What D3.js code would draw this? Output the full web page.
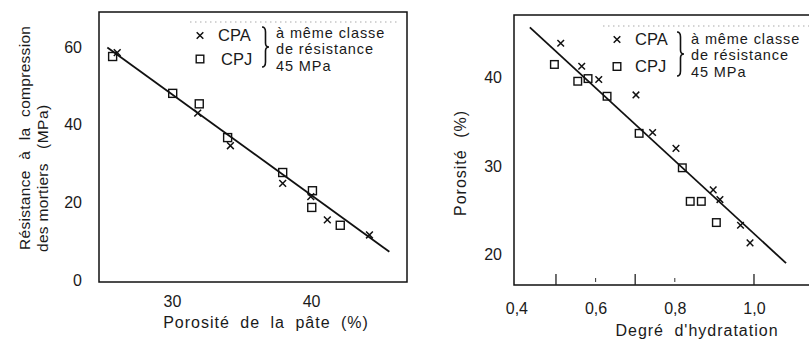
<!DOCTYPE html>
<html>
<head>
<meta charset="utf-8">
<script src="https://cdn.jsdelivr.net/npm/d3@7"></script>
<style>
  html, body { margin: 0; padding: 0; background: #fff; }
  svg { display: block; }
  text { font-family: "Liberation Sans", Arial, Helvetica, sans-serif; fill: #1a1a1a; }
</style>
</head>
<body>
<svg id="chart" width="809" height="340"></svg>
<script>
// ---------- DATA ----------
// Left panel: compressive strength of mortars (MPa) vs paste porosity (%)
const leftCPA = [[26.06,58.6],[31.85,43.0],[34.2,34.6],[37.96,24.9],[39.98,21.5],[41.17,15.5],[44.2,11.6]];
const leftCPJ = [[25.73,57.6],[30.05,48.1],[31.96,45.4],[34.0,36.7],[37.96,27.7],[40.1,23.0],[40.05,18.7],[42.1,14.1]];
const leftFit = [[25.35,59.9],[45.63,7.3]];
const leftXTicks = [30, 40];
const leftYTicks = [0, 20, 40, 60];

// Right panel: porosity (%) vs degree of hydration
const rightCPA = [[0.512,43.9],[0.565,41.3],[0.608,39.8],[0.702,38.05],[0.744,33.8],[0.803,32.0],[0.897,27.3],[0.914,26.2],[0.966,23.3],[0.99,21.3]];
const rightCPJ = [[0.496,41.5],[0.555,39.6],[0.581,39.9],[0.629,37.9],[0.71,33.7],[0.819,29.8],[0.839,26.0],[0.867,26.0],[0.905,23.6]];
const rightFit = [[0.434,45.7],[1.081,19.0]];
const rightXTicks = [0.4, 0.6, 0.8, 1.0];
const rightXMajorMarks = [0.5, 0.7, 1.0];
const rightXMinorMarks = [0.6, 0.8];
const rightYTicks = [20, 30, 40];

const legendLabels = ["CPA", "CPJ"];
const legendNote = ["à même classe", "de résistance", "45 MPa"];

// ---------- DRAW ----------
const svg = d3.select("#chart");
const frmt = d => d3.format(".1f")(d).replace(".", ",");

function cross(g, x, y, s) {
  g.append("path")
    .attr("d", `M${x-s},${y-s}L${x+s},${y+s}M${x-s},${y+s}L${x+s},${y-s}`)
    .attr("stroke", "#111").attr("stroke-width", 1.5).attr("fill", "none");
}
function square(g, x, y, s) {
  g.append("rect").attr("x", x-s).attr("y", y-s).attr("width", 2*s).attr("height", 2*s)
    .attr("fill", "none").attr("stroke", "#111").attr("stroke-width", 1.4);
}
function brace(g, x, y0, y1, w) {
  const m = (y0 + y1) / 2;
  g.append("path")
    .attr("d", `M${x},${y0} Q${x+w},${y0} ${x+w},${y0+5} L${x+w},${m-4} Q${x+w},${m} ${x+2*w},${m} Q${x+w},${m} ${x+w},${m+4} L${x+w},${y1-5} Q${x+w},${y1} ${x},${y1}`)
    .attr("fill", "none").attr("stroke", "#111").attr("stroke-width", 1.6);
}
function styleAxis(g, fs) {
  g.select(".domain").remove();
  g.selectAll(".tick line").remove();
  g.selectAll(".tick text").style("font-size", fs + "px").attr("fill", "#1a1a1a");
}
function legend(g, o) {
  // faint screened box edge from the original print
  g.append("line").attr("x1", o.bx0).attr("x2", o.bx1).attr("y1", o.by).attr("y2", o.by)
    .attr("stroke", "#aaa").attr("stroke-width", 1.2).attr("stroke-dasharray", "1.5,3.5");
  cross(g, o.mx, o.y1, 3.3);
  square(g, o.mx, o.y2, 3.8);
  g.append("text").attr("x", o.tx).attr("y", o.y1 + 5.5).style("font-size", "16.5px").text(legendLabels[0]);
  g.append("text").attr("x", o.tx2).attr("y", o.y2 + 5.5).style("font-size", "16.5px").text(legendLabels[1]);
  brace(g, o.bx, o.b0, o.b1, 3.5);
  legendNote.forEach((t, i) => {
    g.append("text").attr("x", o.nx).attr("y", o.nb[i]).style("font-size", "14.5px")
      .style("letter-spacing", "0.9px").text(t);
  });
}

// ----- Left panel -----
(function () {
  const g = svg.append("g");
  const x = d3.scaleLinear().domain([24.75, 46.9]).range([99, 407]);
  const y = d3.scaleLinear().domain([-0.52, 69.07]).range([282, 12]);
  const [x0, x1] = x.range(), [y0, y1] = y.range();

  g.append("rect").attr("x", x0).attr("y", y1).attr("width", x1 - x0).attr("height", y0 - y1)
    .attr("fill", "none").attr("stroke", "#111").attr("stroke-width", 1.5);

  const ax = g.append("g").attr("transform", `translate(0,${y0})`)
    .call(d3.axisBottom(x).tickValues(leftXTicks).tickSize(0).tickPadding(14).tickFormat(d3.format("d")));
  styleAxis(ax, 16);
  const ay = g.append("g").attr("transform", `translate(${x0},0)`)
    .call(d3.axisLeft(y).tickValues(leftYTicks).tickSize(0).tickPadding(17).tickFormat(d3.format("d")));
  styleAxis(ay, 16);

  g.append("path").datum(leftFit)
    .attr("d", d3.line().x(d => x(d[0])).y(d => y(d[1])))
    .attr("stroke", "#111").attr("stroke-width", 1.8).attr("fill", "none");
  leftCPJ.forEach(d => square(g, x(d[0]), y(d[1]), 4));
  leftCPA.forEach(d => cross(g, x(d[0]), y(d[1]), 3.4));

  legend(g, { bx0: 190, bx1: 398, by: 22, mx: 200, y1: 35.5, y2: 59, tx: 218, tx2: 221,
              bx: 262, b0: 27, b1: 67, nx: 276, nb: [38, 54.3, 70.6] });

  g.append("text").attr("transform", "translate(30,250) rotate(-90)")
    .style("font-size", "15.5px").style("word-spacing", "6px").style("letter-spacing", "0.3px")
    .text("Résistance à la compression");
  g.append("text").attr("transform", "translate(48,252) rotate(-90)")
    .style("font-size", "15.5px").style("letter-spacing", "0.3px").text("des mortiers");
  g.append("text").attr("transform", "translate(48,149) rotate(-90)")
    .style("font-size", "15.5px").style("letter-spacing", "0.5px").text("(MPa)");
  g.append("text").attr("x", 266).attr("y", 327.5).attr("text-anchor", "middle")
    .style("font-size", "16px").style("letter-spacing", "1px").style("word-spacing", "5px")
    .text("Porosité de la pâte (%)");
})();

// ----- Right panel -----
(function () {
  const g = svg.append("g");
  const x = d3.scaleLinear().domain([0.394, 1.1465]).range([514, 812]);
  const y = d3.scaleLinear().domain([16.53, 47.1]).range([285, 15]);
  const [x0, x1] = x.range(), [y0, y1] = y.range();

  g.append("path").attr("d", `M${x1},${y1}L${x0},${y1}L${x0},${y0}L${x1},${y0}`)
    .attr("fill", "none").attr("stroke", "#111").attr("stroke-width", 1.5);

  const ax = g.append("g").attr("transform", `translate(0,${y0})`)
    .call(d3.axisBottom(x).tickValues(rightXTicks).tickSize(0).tickPadding(17.5).tickFormat(frmt));
  styleAxis(ax, 16);
  g.selectAll(".majorMark").data(rightXMajorMarks).enter().append("line")
    .attr("x1", d => x(d)).attr("x2", d => x(d)).attr("y1", y0).attr("y2", y0 - 11)
    .attr("stroke", "#222").attr("stroke-width", 1.3);
  g.selectAll(".minorMark").data(rightXMinorMarks).enter().append("line")
    .attr("x1", d => x(d)).attr("x2", d => x(d)).attr("y1", y0 - 3).attr("y2", y0 - 7)
    .attr("stroke", "#444").attr("stroke-width", 1.1);

  const ay = g.append("g").attr("transform", `translate(${x0},0)`)
    .call(d3.axisLeft(y).tickValues(rightYTicks).tickSize(0).tickPadding(12).tickFormat(d3.format("d")));
  styleAxis(ay, 16);

  g.append("path").datum(rightFit)
    .attr("d", d3.line().x(d => x(d[0])).y(d => y(d[1])))
    .attr("stroke", "#111").attr("stroke-width", 1.8).attr("fill", "none");
  rightCPJ.forEach(d => square(g, x(d[0]), y(d[1]), 3.8));
  rightCPA.forEach(d => cross(g, x(d[0]), y(d[1]), 3.3));

  legend(g, { bx0: 603, bx1: 809, by: 26, mx: 617, y1: 39.5, y2: 66.5, tx: 635, tx2: 635,
              bx: 677, b0: 32, b1: 76, nx: 691, nb: [44, 60.3, 76.6] });

  g.append("text").attr("transform", "translate(466,216) rotate(-90)")
    .style("font-size", "16px").style("letter-spacing", "1px").style("word-spacing", "6px")
    .text("Porosité (%)");
  g.append("text").attr("x", 697).attr("y", 335.5).attr("text-anchor", "middle")
    .style("font-size", "16px").style("letter-spacing", "1px").style("word-spacing", "5px")
    .text("Degré d'hydratation");
})();
</script>
</body>
</html>
